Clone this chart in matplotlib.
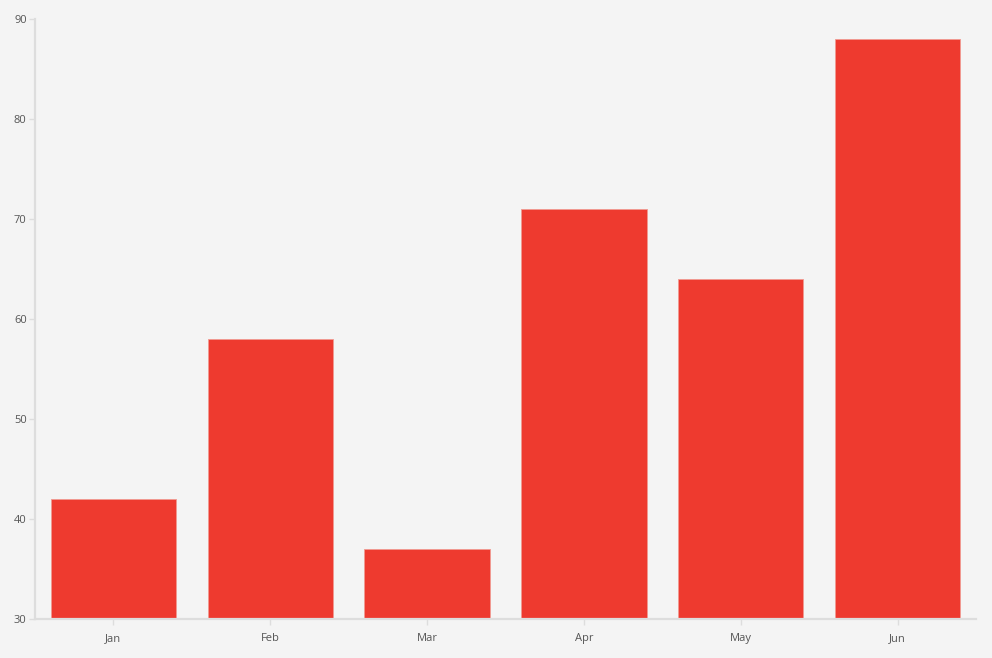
import matplotlib
matplotlib.use('Agg')
import matplotlib.pyplot as plt

months = ['Jan', 'Feb', 'Mar', 'Apr', 'May', 'Jun']
values = [42, 58, 37, 71, 64, 88]
y_ticks = [30, 40, 50, 60, 70, 80, 90]

BG = '#f4f4f4'
BAR = '#ee3a2f'
AXIS = '#dddddd'
TEXT = '#555555'

plt.rcParams['font.family'] = ['Open Sans', 'DejaVu Sans']

W, H = 992, 658
fig = plt.figure(figsize=(W / 100, H / 100), dpi=100, facecolor=BG)
ax = fig.add_axes([35 / W, (H - 619) / H, (976 - 35) / W, 600 / H])
ax.set_facecolor(BG)

x = list(range(len(months)))
ax.bar(x, values, width=0.8, bottom=0, color=BAR, edgecolor='#f09a92', linewidth=0.6)

ax.set_xlim(-0.5, len(months) - 0.5)
ax.set_ylim(30, 90)
ax.set_yticks(y_ticks)
ax.set_xticks(x)
ax.set_xticklabels(months)

for side in ['top', 'right']:
    ax.spines[side].set_visible(False)
for side in ['left', 'bottom']:
    ax.spines[side].set_color(AXIS)
    ax.spines[side].set_linewidth(1.6)

ax.tick_params(axis='both', colors=AXIS, labelcolor=TEXT, labelsize=8, length=4, width=1)
ax.tick_params(axis='y', pad=2)
ax.tick_params(axis='x', pad=6)

fig.savefig('out.png', dpi=100, facecolor=BG)
